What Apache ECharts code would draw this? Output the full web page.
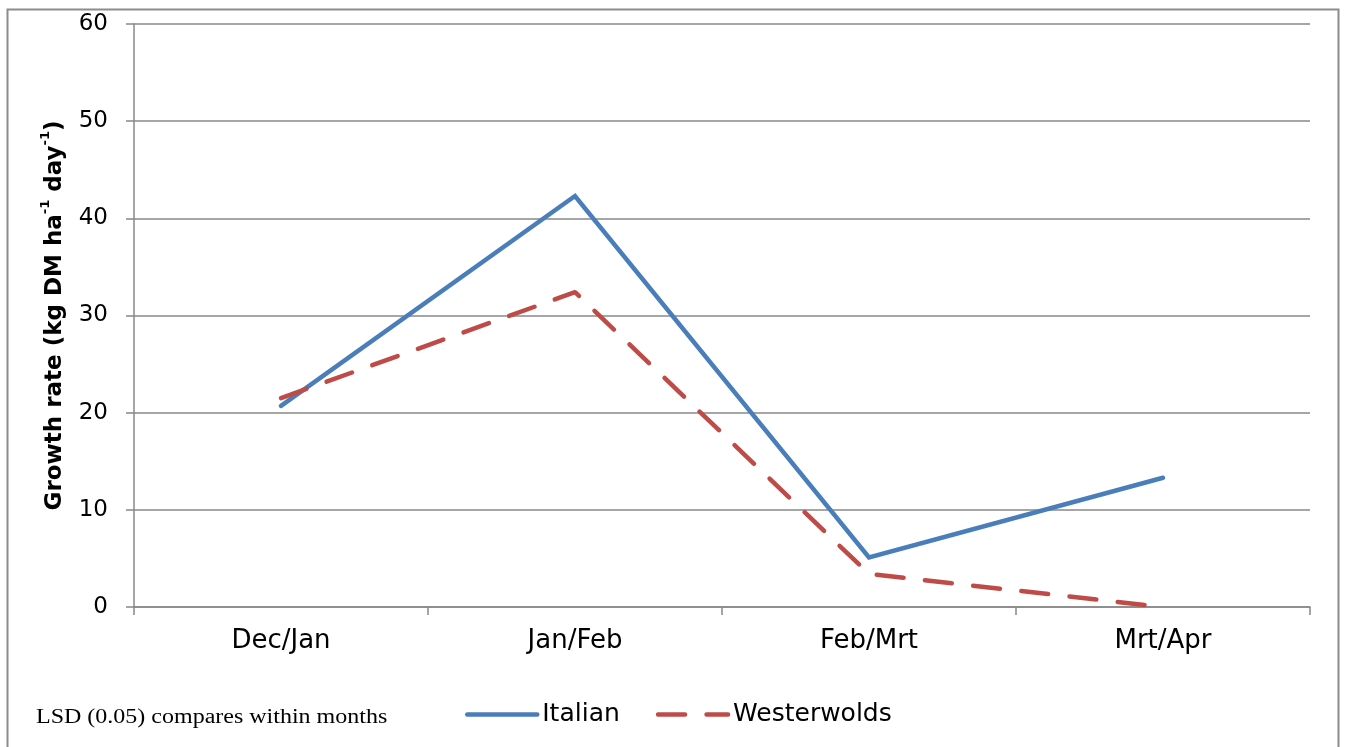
<!DOCTYPE html>
<html>
<head>
<meta charset="utf-8">
<title>Growth rate</title>
<script src="https://cdn.jsdelivr.net/npm/echarts@6/dist/echarts.min.js"></script>
<style>
  html, body { margin: 0; padding: 0; background: #ffffff; }
  #chart { width: 1346px; height: 747px; }
</style>
</head>
<body>
<div id="chart"></div>
<script>
// Periods (month pairs) on the category axis
const periods = ['Dec/Jan', 'Jan/Feb', 'Feb/Mrt', 'Mrt/Apr'];
// Growth rate, kg DM ha-1 day-1
const italian = [20.7, 42.3, 5.1, 13.3];
const westerwolds = [21.5, 32.4, 3.4, 0];
// Value axis ticks
const yTicks = [0, 10, 20, 30, 40, 50, 60];

const FONT = 'DejaVu Sans';
const GRID_COLOR = '#888888';
const LINE_W = 4.5;

const chart = echarts.init(document.getElementById('chart'), null, { renderer: 'canvas' });

chart.setOption({
  animation: false,
  backgroundColor: '#ffffff',
  grid: { left: 134, right: 36, top: 24, bottom: 140, containLabel: false },
  legend: {
    left: 460,
    top: 697,
    itemWidth: 70,
    itemHeight: 14,
    itemGap: 36,
    itemStyle: { opacity: 0 },
    lineStyle: { width: LINE_W, cap: 'round' },
    textStyle: { fontFamily: FONT, fontSize: 25, color: '#000000' },
    data: ['Italian', 'Westerwolds']
  },
  xAxis: {
    type: 'category',
    data: periods,
    boundaryGap: true,
    axisLine: { lineStyle: { color: GRID_COLOR, width: 1.5 } },
    axisTick: { show: true, length: 8, alignWithLabel: false, lineStyle: { color: GRID_COLOR, width: 1.5 } },
    axisLabel: { margin: 21, fontFamily: FONT, fontSize: 26, color: '#000000' }
  },
  yAxis: {
    type: 'value',
    min: yTicks[0],
    max: yTicks[yTicks.length - 1],
    interval: yTicks[1] - yTicks[0],
    name: '{b|Growth rate (kg DM ha}{s|-1}{b| day}{s|-1}{b|)}',
    nameLocation: 'middle',
    nameGap: 67,
    nameRotate: 90,
    nameTextStyle: {
      rich: {
        b: { fontFamily: FONT, fontSize: 23, fontWeight: 'bold', color: '#000000', lineHeight: 28, verticalAlign: 'bottom' },
        s: { fontFamily: FONT, fontSize: 13, fontWeight: 'bold', color: '#000000', lineHeight: 28, verticalAlign: 'top' }
      }
    },
    axisLine: { show: true, lineStyle: { color: GRID_COLOR, width: 1.5 } },
    axisTick: { show: true, length: 8, lineStyle: { color: GRID_COLOR, width: 1.5 } },
    axisLabel: { margin: 26, fontFamily: FONT, fontSize: 23, color: '#000000' },
    splitLine: { show: true, lineStyle: { color: GRID_COLOR, width: 1.5 } }
  },
  series: [
    {
      name: 'Italian',
      type: 'line',
      data: italian,
      symbol: 'none',
      color: '#4a7ebb',
      lineStyle: { color: '#4a7ebb', width: LINE_W, cap: 'round', join: 'miter' }
    },
    {
      name: 'Westerwolds',
      type: 'line',
      data: westerwolds,
      symbol: 'none',
      color: '#be4b48',
      lineStyle: { color: '#be4b48', width: LINE_W, type: [27, 21.5], cap: 'round', join: 'round' }
    }
  ],
  graphic: [
    {
      type: 'rect',
      left: 5,
      top: 7,
      shape: { width: 1331, height: 760 },
      style: { fill: 'none', stroke: '#8c8c8c', lineWidth: 2 },
      silent: true,
      z: -1
    },
    {
      type: 'text',
      x: 36,
      y: 708,
      scaleX: 1.2,
      style: {
        text: 'LSD (0.05) compares within months',
        font: '20px "Liberation Serif", serif',
        fill: '#000000'
      }
    }
  ]
});
</script>
</body>
</html>
